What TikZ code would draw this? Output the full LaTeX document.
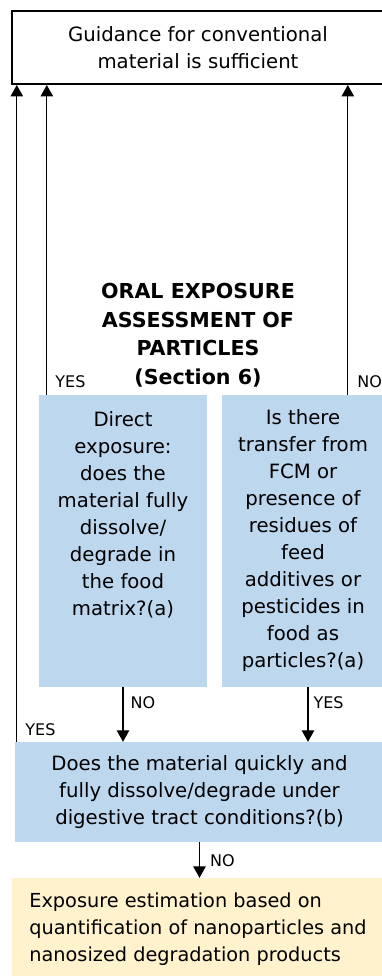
\documentclass[tikz,border=0pt]{standalone}
\usepackage{fontspec}
\setmainfont{DejaVu Sans}
\usetikzlibrary{arrows.meta}
\usetikzlibrary{positioning}
\definecolor{qblue}{HTML}{BDD7EE}
\definecolor{qyellow}{HTML}{FFF2CC}

\begin{document}
\begin{tikzpicture}[x=1pt,y=-1pt,box/.style={draw=none, fill=qblue, inner sep=0pt, align=center, text=black, font=\fontsize{19.7}{27}\selectfont}]
    \tikzset{flow/.style={-{Triangle[length=11.5pt,width=12.5pt]}, line width=1.2pt, black}}
    \tikzset{answer/.style={font=\fontsize{16}{17}\selectfont, inner sep=0pt, text=black}}
    \useasboundingbox (0,0) rectangle (381,976);

    % boxes
    \node[box, fill=white, draw=black, line width=2pt, minimum width=372pt, minimum height=73pt] (guide) at (198,47.5) {Guidance for conventional\\material is sufficient};
    \node[align=center, inner sep=0pt, font=\fontsize{20.6}{28.5}\selectfont\bfseries] (title) at (198,335) {ORAL EXPOSURE\\ASSESSMENT OF\\PARTICLES\\(Section 6)};
    \node[box, minimum width=168pt, minimum height=292pt] (direct) at (123,541) {Direct\\exposure:\\does the\\material fully\\dissolve/\\degrade in\\the food\\matrix?(a)\\ \mbox{}\\ \mbox{}};
    \node[box, minimum width=162pt, minimum height=292pt] (transfer) at (303,541) {Is there\\transfer from\\FCM or\\presence of\\residues of\\feed\\additives or\\pesticides in\\food as\\particles?(a)};
    \node[box, minimum width=369pt, minimum height=100pt] (digest) at (199.5,792) {Does the material quickly and\\fully dissolve/degrade under\\digestive tract conditions?(b)};
    \node[box, fill=qyellow, align=left, font=\fontsize{19.3}{27}\selectfont, minimum width=372pt, minimum height=102pt] (estimate) at (198,929) {Exposure estimation based on\\quantification of nanoparticles and\\nanosized degradation products};

    % answers going down
    \draw[flow] (direct.south) -- (direct.south |- digest.north) node[answer, at start, anchor=north west, xshift=7pt, yshift=-9pt] {NO};
    \draw[flow] ([xshift=5pt]transfer.south) -- ([xshift=5pt]transfer.south |- digest.north) node[answer, at start, anchor=north west, xshift=5pt, yshift=-9pt] {YES};
    \draw[flow] (digest.south) -- (digest.south |- estimate.north) node[answer, at start, anchor=north west, xshift=10pt, yshift=-12pt] {NO};

    % answers going up
    \draw[flow] ([xshift=2pt]digest.north west) -- ([xshift=2pt]digest.north west |- guide.south) node[answer, at start, anchor=south west, xshift=8pt, yshift=5pt] {YES};
    \draw[flow] ([xshift=8pt]direct.north west) -- ([xshift=8pt]direct.north west |- guide.south) node[answer, at start, anchor=south west, xshift=8pt, yshift=6pt] {YES};
    \draw[flow] ([xshift=126pt]transfer.north west) -- ([xshift=126pt]transfer.north west |- guide.south) node[answer, at start, anchor=south west, xshift=9pt, yshift=6pt] {NO};
\end{tikzpicture}
\end{document}
